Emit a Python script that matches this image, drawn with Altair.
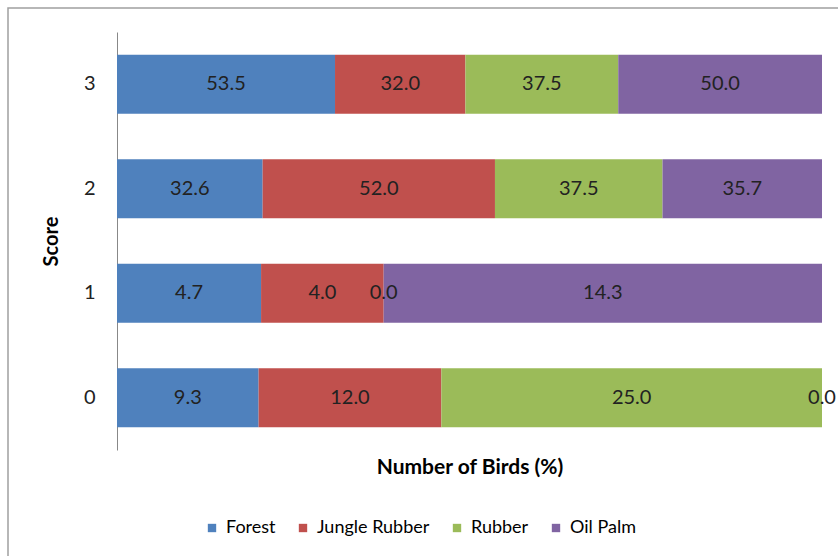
import altair as alt
import pandas as pd

scores = ["0", "1", "2", "3"]
habitats = ["Forest", "Jungle Rubber", "Rubber", "Oil Palm"]
forest = [9.3, 4.7, 32.6, 53.5]
jungle_rubber = [12.0, 4.0, 52.0, 32.0]
rubber = [25.0, 0.0, 37.5, 37.5]
oil_palm = [0.0, 14.3, 35.7, 50.0]
colors = ["#4F81BD", "#C0504D", "#9BBB59", "#8064A2"]

series = [forest, jungle_rubber, rubber, oil_palm]
rows = []
for hi, (h, vals) in enumerate(zip(habitats, series)):
    for s, v in zip(scores, vals):
        rows.append({"Score": s, "Habitat": h, "order": hi, "value": v})
df = pd.DataFrame(rows)

FONT = "Lato"

base = alt.Chart(df).transform_stack(
    stack="value",
    groupby=["Score"],
    as_=["x0", "x1"],
    offset="normalize",
    sort=[alt.SortField("order", order="ascending")],
).transform_calculate(mid="(datum.x0 + datum.x1) / 2")

yenc = alt.Y(
    "Score:O",
    sort=["3", "2", "1", "0"],
    scale=alt.Scale(paddingInner=0.435, paddingOuter=0.2175),
    axis=alt.Axis(
        title="Score",
        titleFont=FONT,
        titleFontSize=20,
        titleFontWeight="bold",
        titleColor="#000",
        titlePadding=22,
        labelFont=FONT,
        labelFontSize=20,
        labelColor="#222",
        labelPadding=22,
        ticks=False,
        domainColor="#888",
        domainWidth=1,
        grid=False,
    ),
)

bars = base.mark_bar().encode(
    x=alt.X(
        "x0:Q",
        scale=alt.Scale(domain=[0, 1], nice=False, zero=True),
        axis=alt.Axis(
            title="Number of Birds (%)",
            titleFont=FONT,
            titleFontSize=21,
            titleFontWeight="bold",
            titleColor="#000",
            titlePadding=6,
            labels=False,
            ticks=False,
            domain=False,
            grid=False,
        ),
    ),
    x2="x1:Q",
    y=yenc,
    color=alt.Color(
        "Habitat:N",
        sort=habitats,
        scale=alt.Scale(domain=habitats, range=colors),
        legend=alt.Legend(
            title=None,
            orient="none",
            direction="horizontal",
            legendX=86,
            legendY=487,
            symbolType="square",
            symbolSize=70,
            symbolStrokeWidth=0,
            labelFont=FONT,
            labelFontSize=18,
            labelColor="#000",
            labelOffset=5,
            columnPadding=18,
        ),
    ),
)

labels = base.mark_text(font=FONT, fontSize=20, color="#222").encode(
    x=alt.X("mid:Q"),
    y=alt.Y("Score:O", sort=["3", "2", "1", "0"]),
    text=alt.Text("value:Q", format=".1f"),
)

frame = alt.Chart(pd.DataFrame({"a": [0]})).mark_rect(
    filled=False, stroke="#a0a0a0", strokeWidth=1.5
).encode(
    x=alt.value(-109),
    x2=alt.value(740),
    y=alt.value(-24),
    y2=alt.value(540),
)

chart = (
    alt.layer(frame, bars, labels)
    .properties(
        width=705,
        height=418,
        autosize=alt.AutoSizeParams(type="none"),
        padding={"left": 117, "top": 32, "right": 16, "bottom": 106},
        background="white",
    )
    .configure_view(stroke=None)
)

chart.save("out.html", embed_options={"renderer": "svg", "actions": False})
